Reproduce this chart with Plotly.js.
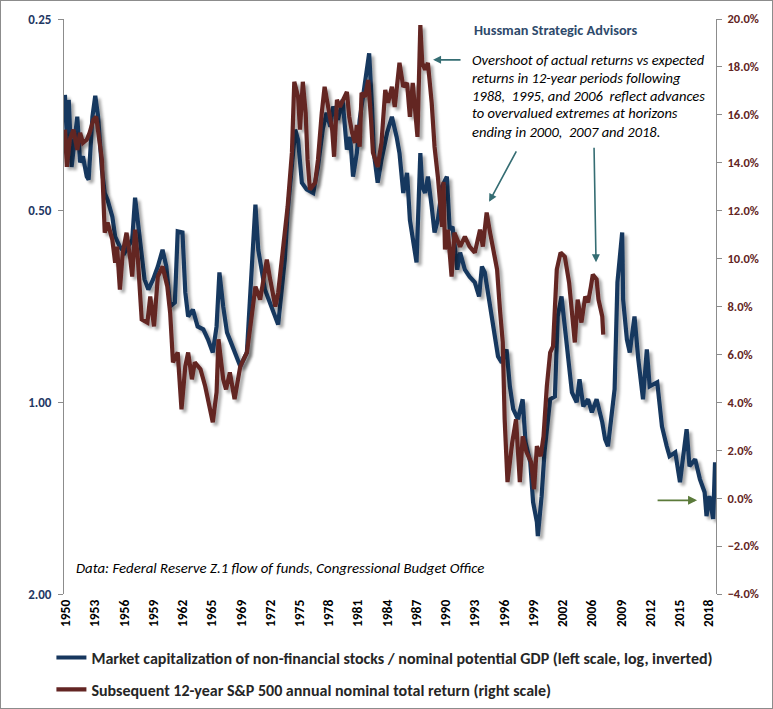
<!DOCTYPE html>
<html>
<head>
<meta charset="utf-8">
<script src="https://cdn.plot.ly/plotly-3.0.1.min.js"></script>
<style>
html,body{margin:0;padding:0;background:#fff;}
#wrap{position:relative;width:773px;height:709px;}
#chart{width:773px;height:709px;}
#frame{position:absolute;left:0;top:0;width:771px;height:707px;border:1px solid #8c8c8c;pointer-events:none;}
.scatterlayer .trace{filter:url(#shadow);}
</style>
</head>
<body>
<svg width="0" height="0" style="position:absolute">
  <defs>
    <filter id="shadow" x="-5%" y="-5%" width="115%" height="115%">
      <feGaussianBlur in="SourceAlpha" stdDeviation="1.6"/>
      <feOffset dx="3" dy="3" result="off"/>
      <feComponentTransfer><feFuncA type="linear" slope="0.35"/></feComponentTransfer>
      <feMerge><feMergeNode/><feMergeNode in="SourceGraphic"/></feMerge>
    </filter>
  </defs>
</svg>
<div id="wrap"><div id="chart"></div><div id="frame"></div></div>
<script>
// Market capitalization of non-financial stocks / nominal potential GDP (left, log, inverted)
const mcapYears = [1950.1,1950.4,1950.5,1950.8,1951.4,1951.7,1952.0,1952.4,1952.6,1953.0,1953.3,1953.6,1954.0,1954.3,1954.6,1955.1,1955.4,1955.9,1956.4,1956.8,1957.2,1957.5,1957.8,1958.2,1958.5,1958.9,1959.4,1959.9,1960.4,1960.8,1961.2,1961.7,1962.0,1962.5,1962.8,1963.1,1963.6,1964.1,1964.7,1965.2,1965.7,1966.1,1966.4,1966.8,1967.2,1967.5,1968.6,1969.3,1970.2,1970.5,1971.2,1972.6,
  1973.3,1973.6,1974.05,1974.4,1974.7,1975.1,1975.6,1976.3,1976.8,1977.3,1977.7,1978.1,1978.4,1978.9,1979.4,1979.85,1980.2,1980.5,1980.9,1981.2,1981.6,1982.0,1982.2,1982.5,1982.7,1983.1,1983.5,1984.1,1984.6,1985.1,1985.4,1985.8,1986.2,1986.5,1986.8,1987.2,1987.6,1987.8,1988.1,1988.4,1988.8,1989.1,1989.45,1989.9,
  1990.4,1990.7,1991.0,1991.5,1991.8,1992.3,1992.8,1993.35,1993.8,1994.1,1994.4,1994.7,1995.25,1995.8,1996.2,1996.7,1997.05,1997.4,1997.9,1998.4,1998.7,1999.2,1999.5,1999.9,2000.0,2000.4,2000.7,2001.3,2001.8,2002.1,2002.5,2002.85,2003.2,
  2003.6,2004.1,2004.4,2004.8,2005.3,2005.7,2006.2,2006.8,2007.1,2007.4,2007.8,2008.1,2008.4,2008.9,2009.0,2009.4,2009.7,2010.2,2010.6,2011.1,2011.5,2011.8,2012.6,2013.1,2013.6,2013.9,2014.5,2015.0,2015.3,2015.7,2016.0,2016.6,2017.1,2017.6,2017.8,2018.1,2018.5,2018.7];
const mcapRatio = [0.329,0.416,0.335,0.427,0.356,0.420,0.411,0.442,0.447,0.356,0.330,0.356,0.431,0.469,0.481,0.511,0.549,0.570,0.582,0.570,0.555,0.477,0.522,0.582,0.641,0.665,0.641,0.612,0.576,0.612,0.707,0.697,0.539,0.541,0.672,0.733,0.715,0.760,0.768,0.797,0.835,0.760,0.625,0.707,0.777,0.797,0.878,0.835,0.489,0.576,0.665,0.755,
  0.597,0.503,0.427,0.373,0.387,0.452,0.463,0.469,0.427,0.373,0.351,0.369,0.343,0.360,0.335,0.401,0.383,0.442,0.406,0.360,0.327,0.300,0.283,0.343,0.406,0.452,0.416,0.377,0.356,0.383,0.406,0.469,0.436,0.517,0.555,0.603,0.406,0.458,0.469,0.442,0.493,0.541,0.517,0.458,
  0.442,0.535,0.530,0.619,0.582,0.619,0.635,0.648,0.682,0.612,0.625,0.665,0.749,0.847,0.866,0.826,0.944,1.025,1.063,0.989,1.155,1.242,1.435,1.542,1.622,1.404,1.198,0.989,0.979,0.733,0.682,0.760,0.856,
  0.965,1.000,0.920,1.015,0.989,1.037,0.989,1.075,1.143,1.172,1.037,0.954,0.648,0.541,0.690,0.797,0.835,0.733,0.856,0.989,0.826,0.944,0.930,1.091,1.172,1.215,1.198,1.335,1.229,1.102,1.260,1.229,1.320,1.384,1.509,1.404,1.525,1.242];

// Subsequent 12-year S&P 500 annual nominal total return (right, %)
const retYears = [1950.1,1950.3,1950.6,1951.0,1951.4,1951.7,1952.0,1952.4,1952.7,1953.1,1953.4,1953.6,1954.0,1954.3,1954.6,1955.1,1955.4,1955.6,1955.9,1956.2,1956.6,1957.0,1957.2,1957.5,1957.8,1958.2,1958.8,1959.1,1959.5,1959.9,1960.4,1960.9,1961.2,1961.5,1962.0,1962.4,1962.8,1963.1,1963.5,1963.8,1964.4,1964.9,1965.4,1965.7,1966.1,1966.3,1966.8,1967.1,1967.5,1968.0,1968.6,1969.3,1969.8,1970.2,1970.7,1971.4,1971.7,1972.3,1972.6,1973.0,
  1973.3,1973.6,1974.05,1974.3,1974.7,1974.9,1975.2,1975.5,1975.7,1975.95,1976.5,1976.8,1977.2,1977.5,1977.8,1978.3,1978.5,1978.8,1979.1,1979.4,1979.85,1980.1,1980.4,1980.7,1980.9,1981.2,1981.4,1981.75,1982.1,1982.4,1982.6,1983.1,1983.5,1983.9,1984.2,1984.6,1984.9,1985.4,1985.8,1986.2,1986.5,1986.8,1987.3,1987.6,1987.8,1988.1,1988.4,1988.8,1989.1,1989.45,1989.9,1990.05,
  1990.2,1990.5,1990.9,1991.2,1991.8,1992.3,1992.8,1993.35,1993.9,1994.2,1994.6,1994.9,1995.25,1995.7,1996.0,1996.3,1996.5,1996.7,1996.8,1997.3,1997.7,1998.1,1998.4,1998.8,1999.3,1999.6,1999.9,2000.3,2000.6,2000.95,2001.3,2001.6,2002.0,2002.4,2002.85,2003.3,
  2003.6,2003.9,2004.2,2004.6,2005.0,2005.3,2005.6,2005.8,2006.2,2006.4,2006.8,2006.9];
const retPct = [15.38,13.83,14.96,15.38,14.54,15.25,14.83,14.96,15.25,15.79,15.92,15.38,14.13,11.08,11.5,10.79,9.83,10.5,8.71,10.25,11.08,9.96,9.25,11.21,9.96,7.46,7.33,8.42,7.17,9.25,9.67,8.83,7.75,5.67,6.08,3.71,5.5,6.08,4.96,5.67,5.38,4.67,3.83,3.17,4.42,6.63,4.96,4.54,5.25,4.13,5.5,6.08,7.58,8.83,8.29,9.96,9.25,8.0,8.58,9.96,
  10.79,12.17,14.42,17.38,16.75,15.38,17.38,16.08,14.13,12.88,13.17,14.13,16.08,17.17,16.5,15.38,14.25,16.63,16.33,16.63,16.96,15.92,15.25,14.83,15.58,14.67,16.92,16.75,17.46,15.79,14.42,13.83,14.83,17.04,16.5,17.17,16.33,18.17,17.17,17.33,15.92,17.33,15.08,19.75,18.17,17.88,18.17,16.5,14.67,13.42,11.33,13.2,
  10.38,11.21,9.25,11.08,10.5,10.92,10.5,10.25,11.21,10.5,11.92,11.21,10.38,9.54,7.875,6.5,3.29,1.21,0.67,2.33,3.29,0.67,2.58,1.92,1.5,0.375,2.17,1.75,2.58,4.67,6.08,6.33,9.54,10.25,10.08,9.0,
  7.58,6.5,8.29,7.33,8.42,8.17,8.83,9.33,9.13,8.29,7.58,6.83];

const xTickLabels = ['1950','1953','1956','1959','1962','1965','1969','1972','1975','1978','1981','1984','1987','1990','1993','1996','1999','2002','2006','2009','2012','2015','2018'];
const leftTickVals = [0.25,0.5,1,2];
const leftTickText = ['0.25','0.50','1.00','2.00'];

const seriesNames = [
  'Market capitalization of non-financial stocks / nominal potential GDP (left scale, log, inverted)',
  'Subsequent 12-year S&P 500 annual nominal total return (right scale)'
];
const noteLines = [
  'Overshoot of actual returns vs expected',
  'returns in 12-year periods following',
  '1988,  1995, and 2006  reflect advances',
  'to overvalued extremes at horizons',
  'ending in 2000,  2007 and 2018.'
];

const FONT = 'Carlito, Lato, sans-serif';
const tickStep = (2018.04 - 1950.2) / (xTickLabels.length - 1);
const xTickVals = xTickLabels.map((_, i) => 1950.2 + i * tickStep);

const traces = [
  {x: mcapYears, y: mcapRatio, name: seriesNames[0], type: 'scatter', mode: 'lines',
   line: {color: '#17375E', width: 4.2}, yaxis: 'y', legendgroup: 'a'},
  {x: retYears, y: retPct, name: seriesNames[1], type: 'scatter', mode: 'lines',
   line: {color: '#632523', width: 4.2}, yaxis: 'y2', legendgroup: 'b'}
];

const arrowColor = '#356D73';
const noteY = [0.9287, 0.8974, 0.8661, 0.8365, 0.8035];
const annotations = [
  {xref: 'paper', yref: 'paper', x: 0.6258, y: 0.981, xanchor: 'left', yanchor: 'middle',
   text: '<b>Hussman Strategic Advisors</b>', showarrow: false,
   font: {family: FONT, size: 14.3, color: '#2E4A6B'}},
  {xref: 'paper', yref: 'paper', x: 0.0153, y: 0.0452, xanchor: 'left', yanchor: 'middle',
   text: '<i>Data: Federal Reserve Z.1 flow of funds, Congressional Budget Office</i>',
   showarrow: false, font: {family: FONT, size: 14.8, color: '#000'}},
  {xref: 'paper', yref: 'paper', x: 0.566, y: 0.929, ax: 29, ay: 0, text: '', showarrow: true,
   arrowhead: 2, arrowsize: 1, arrowwidth: 1.6, arrowcolor: arrowColor},
  {xref: 'paper', yref: 'paper', x: 0.652, y: 0.682, ax: 28, ay: -52, text: '', showarrow: true,
   arrowhead: 2, arrowsize: 1, arrowwidth: 1.6, arrowcolor: arrowColor},
  {xref: 'paper', yref: 'paper', x: 0.816, y: 0.577, ax: -2, ay: -116, text: '', showarrow: true,
   arrowhead: 2, arrowsize: 1, arrowwidth: 1.6, arrowcolor: arrowColor},
  {xref: 'paper', yref: 'paper', x: 0.971, y: 0.163, ax: -41, ay: 0, text: '', showarrow: true,
   arrowhead: 2, arrowsize: 1, arrowwidth: 1.8, arrowcolor: '#5B7A3A'}
];
noteLines.forEach((t, i) => annotations.push({
  xref: 'paper', yref: 'paper', x: 0.6232, y: noteY[i], xanchor: 'left', yanchor: 'middle',
  text: '<i>' + t + '</i>', showarrow: false, font: {family: FONT, size: 14.5, color: '#000'}
}));

const layout = {
  width: 773, height: 709,
  margin: {l: 64, r: 57, t: 19, b: 115, autoexpand: false},
  paper_bgcolor: '#fff', plot_bgcolor: '#fff',
  font: {family: FONT},
  showlegend: true,
  legend: {x: -0.0193, y: -0.081, xanchor: 'left', yanchor: 'top', orientation: 'v',
    traceorder: 'grouped', tracegroupgap: 8,
    font: {family: FONT, size: 16, color: '#262626', weight: 'bold'}, bgcolor: 'rgba(0,0,0,0)'},
  xaxis: {range: [1950, 2018.8], tickmode: 'array', tickvals: xTickVals, ticktext: xTickLabels,
    tickangle: -90, showgrid: false, zeroline: false, showline: false, ticks: '', automargin: false,
    ticklabelstandoff: 2,
    tickfont: {family: FONT, size: 13.5, color: '#000', weight: 'bold'}},
  yaxis: {type: 'log', range: [Math.log10(2), Math.log10(0.25)], tickmode: 'array',
    tickvals: leftTickVals, ticktext: leftTickText, showgrid: false, zeroline: false, automargin: false,
    showline: true, linecolor: '#8c8c8c', linewidth: 1, ticks: 'outside', ticklen: 5, tickcolor: '#8c8c8c',
    ticklabelstandoff: 4,
    tickfont: {family: FONT, size: 13, color: '#1F3864', weight: 'bold'}},
  yaxis2: {overlaying: 'y', side: 'right', range: [-4, 20], dtick: 2, tick0: 0, automargin: false,
    tickformat: '.1f', ticksuffix: '%', showgrid: false, zeroline: false,
    showline: true, linecolor: '#8c8c8c', linewidth: 1, ticks: 'outside', ticklen: 5, tickcolor: '#8c8c8c',
    ticklabelstandoff: 3,
    tickfont: {family: FONT, size: 12.5, color: '#632523', weight: 'bold'}},
  annotations: annotations
};

Plotly.newPlot('chart', traces, layout, {displayModeBar: false, staticPlot: true});
</script>
</body>
</html>
